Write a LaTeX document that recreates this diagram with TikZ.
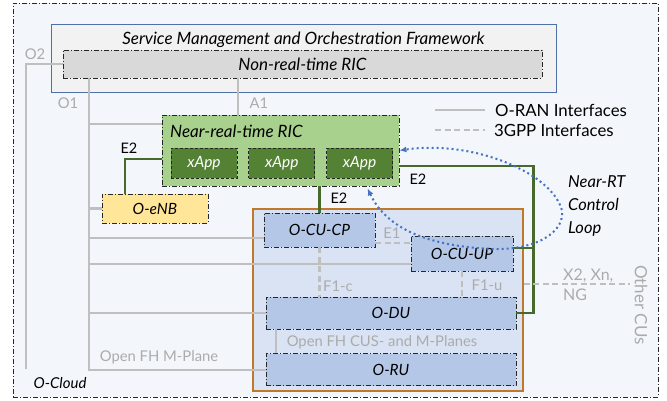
\documentclass[tikz,border=0pt]{standalone}
\usepackage{fontspec}
\setmainfont{Lato}
\usetikzlibrary{calc, arrows.meta, positioning}

\definecolor{cloudfill}{HTML}{F3F7FB}
\definecolor{smofill}{HTML}{F2F2F2}
\definecolor{smoborder}{HTML}{4F6FA8}
\definecolor{nonrtfill}{HTML}{D9D9D9}
\definecolor{nearfill}{HTML}{A9D18E}
\definecolor{appfill}{HTML}{548235}
\definecolor{enbfill}{HTML}{FFE699}
\definecolor{grpfill}{HTML}{DAE3F3}
\definecolor{grpborder}{HTML}{C0782A}
\definecolor{cufill}{HTML}{B4C7E7}
\definecolor{ifgray}{HTML}{BFBFBF}
\definecolor{txtgray}{HTML}{ABABAB}
\definecolor{e2green}{HTML}{47692B}
\definecolor{loopblue}{HTML}{4472C4}

\begin{document}
\begin{tikzpicture}[x=1pt, y=-1pt,
		dashdot/.style={draw=black!85, line width=0.8pt, dash pattern=on 5pt off 2pt on 1pt off 2pt},
		ricbox/.style={dashdot, inner sep=0pt, font=\fontsize{15.5}{18}\selectfont\itshape},
		cubox/.style={ricbox, fill=cufill},
		appbox/.style={draw=black!85, line width=0.8pt, dash pattern=on 3pt off 2pt, fill=appfill,
			text=white, minimum width=66pt, minimum height=30pt, inner sep=0pt,
			font=\fontsize{15.5}{18}\selectfont\itshape},
		title/.style={inner sep=0pt, font=\fontsize{17}{20}\selectfont\itshape},
		graytext/.style={inner sep=0pt, text=txtgray, font=\fontsize{14.8}{20}\selectfont},
		blacktext/.style={inner sep=0pt, font=\fontsize{14.5}{20}\selectfont},
		oranline/.style={draw=ifgray, line width=2.2pt},
		gppline/.style={draw=ifgray, line width=2.2pt, dash pattern=on 6pt off 3.5pt},
		e2line/.style={draw=e2green, line width=2.2pt},
		loopline/.style={draw=loopblue, line width=2pt, dash pattern=on 2pt off 3pt,
			{Latex[length=7pt,width=6pt]}-{Latex[length=7pt,width=6pt]}}]

		\useasboundingbox (0,0) rectangle (667,401);

		% O-Cloud and SMO
		\node[dashdot, fill=cloudfill, minimum width=645pt, minimum height=394pt] (cloud) at (335.5,200) {};
		\node[draw=smoborder, line width=0.9pt, fill=smofill, minimum width=505pt, minimum height=68pt] (smo) at (303.5,58) {};
		\node[title] (smotitle) at (303.5,40) {Service Management and Orchestration Framework};
		\node[ricbox, fill=nonrtfill, minimum width=479pt, minimum height=28pt, font=\fontsize{17}{20}\selectfont\itshape] (nonrt) at (302.5,64) {Non-real-time RIC};

		% CU / DU / RU group
		\node[draw=grpborder, line width=1.2pt, fill=grpfill, minimum width=270pt, minimum height=182pt] (grp) at (388,300) {};

		% near-RT RIC and xApps
		\node[ricbox, fill=nearfill, minimum width=237pt, minimum height=71pt] (nearrt) at (280.5,150.5) {};
		\node[title, anchor=west] (neartitle) at (170,131) {Near-real-time RIC};
		\node[appbox] (app1) at (204,163) {xApp};
		\node[appbox, right=11pt of app1] (app2) {xApp};
		\node[appbox, right=11pt of app2] (app3) {xApp};

		% RAN nodes
		\node[ricbox, fill=enbfill, minimum width=106pt, minimum height=29pt] (oenb) at (155,208.5) {O-eNB};
		\node[cubox, minimum width=111pt, minimum height=34pt] (cucp) at (319.5,230) {O-CU-CP};
		\node[cubox, minimum width=102pt, minimum height=35pt] (cuup) at (462,253.5) {O-CU-UP};
		\node[cubox, minimum width=250pt, minimum height=32pt] (du) at (391,313) {O-DU};
		\node[cubox, minimum width=250pt, minimum height=32pt, below=24pt of du] (ru) {O-RU};

		% O2, O1 and A1
		\coordinate (o2end) at (26,369);
		\coordinate (o1x) at (89,0);
		\coordinate (a1x) at (238,0);
		\draw[oranline] (nonrt.west) -| (o2end);
		\draw[oranline] (nonrt.south -| o1x) |- (ru.west);
		\foreach \tgt/\dy in {nearrt/26.5, oenb/0, cucp/-8, cuup/-10.5, du/0} {
			\coordinate (br) at ([yshift=\dy pt]\tgt.west);
			\draw[oranline] (br) -- (br -| o1x);
		}
		\draw[oranline] (nonrt.south -| a1x) -- (nearrt.north -| a1x);
		\draw[oranline] ([xshift=10pt]du.south west) -- ([xshift=10pt]ru.north west);

		% E2
		\coordinate (e2l) at ([yshift=-8.5pt]nearrt.west);
		\coordinate (e2r) at ([yshift=-15.5pt]nearrt.east);
		\coordinate (e2x) at ([xshift=17pt]du.east);
		\coordinate (e2u) at ([yshift=5.5pt]cuup.east);
		\draw[e2line] (e2l) -| ([xshift=-30pt]oenb.north);
		\draw[e2line] (nearrt.south -| cucp.north) -- (cucp.north);
		\draw[e2line] (e2r) -| (e2x) -- (du.east);
		\draw[e2line] (e2u) -- (e2u -| e2x);

		% 3GPP interfaces
		\coordinate (e1a) at ([yshift=-13pt]cucp.east);
		\coordinate (x2a) at ([yshift=16pt]grp.east);
		\coordinate (x2end) at (630,284);
		\draw[gppline] (e1a) -- (e1a -| cuup.west);
		\draw[gppline] (cucp.south) -- (cucp.south |- du.north);
		\draw[gppline] (cuup.south) -- (cuup.south |- du.north);
		\draw[gppline] (x2a) -- (x2end);

		% legend
		\coordinate (lgoran) at (435,110);
		\coordinate (lggpp) at (435,130);
		\draw[oranline] (lgoran) -- ++(50,0) node[blacktext, right=9pt, font=\fontsize{16.8}{20}\selectfont] (legoran) {O-RAN Interfaces};
		\draw[gppline] (lggpp) -- ++(50,0) node[blacktext, right=8pt, font=\fontsize{16.8}{20}\selectfont] (leggpp) {3GPP Interfaces};

		% interface labels
		\node[graytext] (lbo2) at (35,54) {O2};
		\node[graytext] (lbo1) at (68,103) {O1};
		\node[graytext] (lba1) at (259,103) {A1};
		\node[graytext] (lbe1) at (392,233) {E1};
		\node[graytext] (lbf1c) at (338,286) {F1-c};
		\node[graytext] (lbf1u) at (487,285) {F1-u};
		\node[graytext] (lbmp) at (159,357) {Open FH M-Plane};
		\node[graytext] (lbcus) at (382,342) {Open FH CUS- and M-Planes};
		\node[graytext, anchor=west, align=left, font=\fontsize{16}{20}\selectfont] (lbx2) at (563,285) {X2, Xn,\\NG};
		\node[graytext, rotate=-90, font=\fontsize{17}{20}\selectfont] (lbother) at (641,305) {Other CUs};
		\node[blacktext] (lbe2a) at (129,148) {E2};
		\node[blacktext] (lbe2b) at (339,198) {E2};
		\node[blacktext] (lbe2c) at (418,179) {E2};
		\node[title, font=\fontsize{15}{18}\selectfont\itshape] (lbcloud) at (60,383) {O-Cloud};

		% near-RT control loop
		\draw[loopline] ([xshift=87pt,yshift=-2pt]nearrt.south) .. controls (385,225) and (420,245) .. (490,249)
			.. controls (545,251) and (570,225) .. (560,205) .. controls (545,170) and (470,140) .. (nearrt.east);
		\node[title, anchor=west, align=left, font=\fontsize{16.5}{23}\selectfont\itshape] (looptext) at (568,206) {Near-RT\\Control\\Loop};
	\end{tikzpicture}
\end{document}
